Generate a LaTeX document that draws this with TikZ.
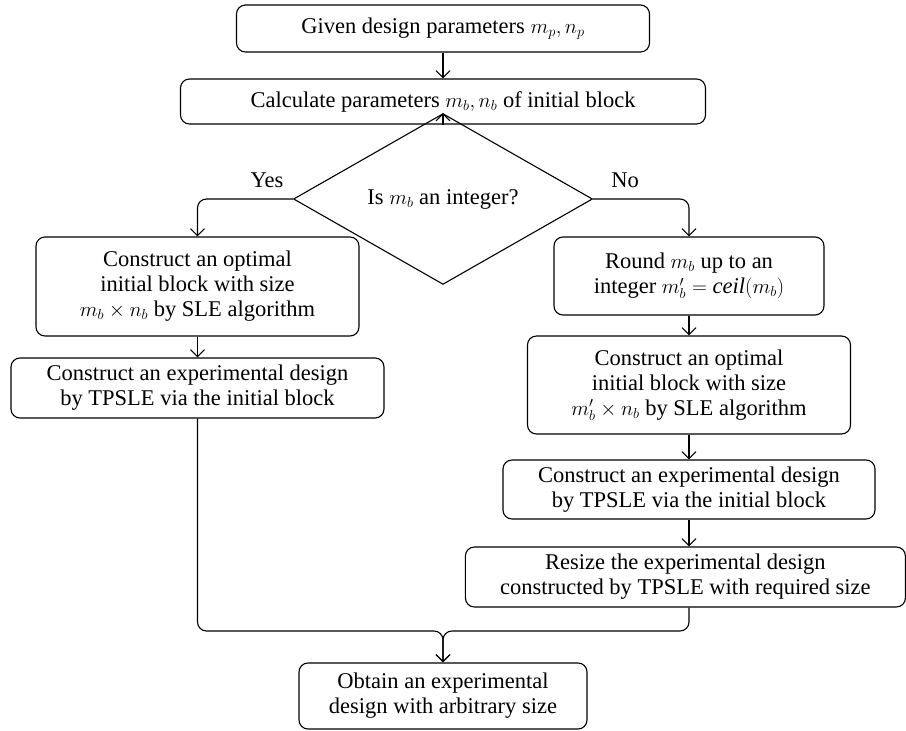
\documentclass[tikz,border=0pt]{standalone}
\usepackage{fontspec}
\setmainfont{Liberation Serif}
\usetikzlibrary{shapes.geometric,arrows.meta}
\begin{document}
\begin{tikzpicture}[x=1pt,y=-1pt,
  box/.style={draw,line width=1.1pt,rounded corners=9pt,align=center,inner sep=0pt,
    font=\fontsize{22.5}{25}\selectfont},
  dia/.style={draw,line width=1.1pt,shape=diamond,inner sep=0pt,
    font=\fontsize{22.5}{25}\selectfont},
  lbl/.style={font=\fontsize{22.5}{25}\selectfont},
  conn/.style={line width=1.1pt,-{Straight Barb[length=7pt,width=14pt]}}]
\useasboundingbox (0,0) rectangle (906,731);
\node[box,minimum width=413,minimum height=47] (b1) at (443,28.5) {Given design parameters $m_p, n_p$};
\node[box,minimum width=525,minimum height=45] (b2) at (443,101.5) {Calculate parameters $m_b, n_b$ of initial block};
\node[dia,minimum width=299,minimum height=116] (d) at (443,199) {Is $m_b$ an integer?};
\node[lbl] (yes) at (267,180) {Yes};
\node[lbl] (no) at (625,180) {No};
\node[box,minimum width=323,minimum height=99] (l1) at (197.5,286.5) {Construct an optimal\\initial block with size\\$m_b\times n_b$ by SLE algorithm};
\node[box,minimum width=373,minimum height=60] (l2) at (197.5,388) {Construct an experimental design\\by TPSLE via the initial block};
\node[box,minimum width=270,minimum height=78] (r1) at (689,276) {Round $m_b$ up to an\\integer $m'_b = \mathit{ceil}(m_b)$};
\node[box,minimum width=323,minimum height=98] (r2) at (689,385) {Construct an optimal\\initial block with size\\$m'_b\times n_b$ by SLE algorithm};
\node[box,minimum width=372,minimum height=59] (r3) at (689,489.5) {Construct an experimental design\\by TPSLE via the initial block};
\node[box,minimum width=440,minimum height=60] (r4) at (685.4,577) {Resize the experimental design\\constructed by TPSLE with required size};
\node[box,minimum width=288,minimum height=66] (b) at (443,696) {Obtain an experimental\\design with arbitrary size};
\coordinate (m) at (443,631);
\draw[conn] (b1) -- (b2);
\draw[conn] (b2) -- (d);
\draw[conn,rounded corners=9pt] (d.west) -| (l1.north);
\draw[conn,rounded corners=9pt] (d.east) -| (r1.north);
\draw[conn] (l1) -- (l2);
\draw[conn] (r1) -- (r2);
\draw[conn] (r2) -- (r3);
\draw[conn] (r3.south) -- (r3.south |- r4.north);
\draw[conn,rounded corners=9pt] (l2.south) |- (m) -- (b.north);
\draw[conn,rounded corners=9pt] (r3.south |- r4.south) |- (m) -- (b.north);
\end{tikzpicture}
\end{document}
